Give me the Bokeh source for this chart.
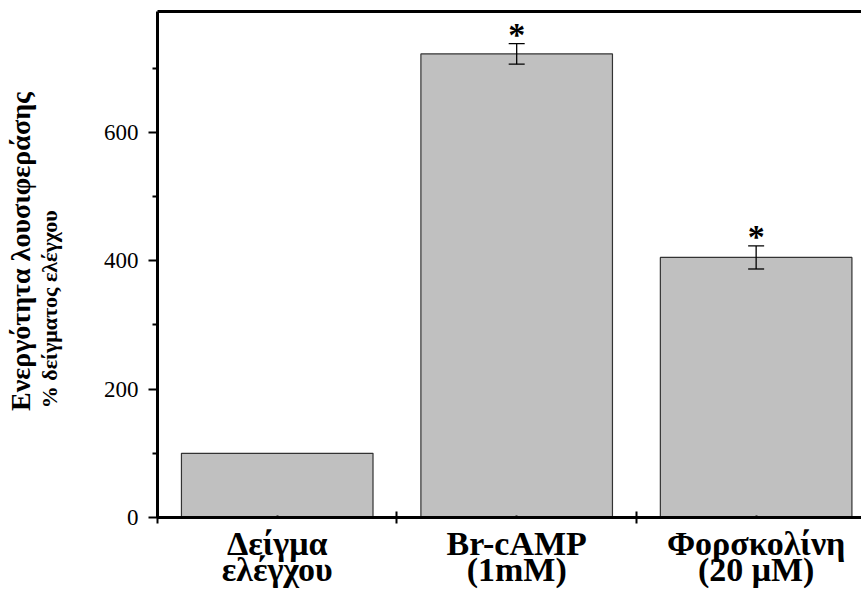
import math
from bokeh.plotting import figure
from bokeh.layouts import row
from bokeh.models import ColumnDataSource, FixedTicker, LinearAxis, Range1d
from bokeh.core.properties import value
from bokeh.embed import file_html
from bokeh.resources import INLINE

# Luciferase activity, % of control sample
categories = ["Δείγμα\nελέγχου", "Br-cAMP\n(1mM)", "Φορσκολίνη\n(20 μM)"]
activity = [100, 722, 405]
sem = [0, 16, 18]
significance = ["", "*", "*"]

y_ticks = [0, 200, 400, 600]
y_minor_ticks = [100, 300, 500, 700]

y_title = "Ενεργότητα λουσιφεράσης"
y_subtitle = "% δείγματος ελέγχου"

FONT = "Liberation Serif"
W, H = 861, 605
TITLE_W = 90          # strip holding the rotated y-axis title
FRAME_LEFT = 157      # page x of the plot frame's left edge

centers = [i + 0.5 for i in range(len(categories))]
bars = ColumnDataSource(dict(x=centers, top=activity))

err_idx = [i for i, e in enumerate(sem) if e > 0]
errs = ColumnDataSource(dict(
    x=[centers[i] for i in err_idx],
    upper=[activity[i] + sem[i] for i in err_idx],
    lower=[activity[i] - sem[i] for i in err_idx],
    mark=[significance[i] for i in err_idx],
))

p = figure(width=W - TITLE_W, height=H, output_backend="svg", toolbar_location=None,
           x_range=Range1d(0, 2.94), y_range=Range1d(0, 788),
           min_border_left=FRAME_LEFT - TITLE_W, min_border_right=0,
           min_border_top=11, min_border_bottom=88)
p.outline_line_color = None
p.xgrid.visible = False
p.ygrid.visible = False
p.background_fill_color = "white"

p.vbar(x="x", top="top", bottom=0, width=0.8, source=bars,
       fill_color="#c0c0c0", line_color="#333333", line_width=1.2)

# error bars: stem plus caps
p.segment(x0="x", y0="lower", x1="x", y1="upper", source=errs,
          line_color="black", line_width=1.3)
p.scatter(x="x", y="upper", source=errs, marker="dash", size=16,
          line_color="black", line_width=1.3)
p.scatter(x="x", y="lower", source=errs, marker="dash", size=16,
          line_color="black", line_width=1.3)

p.text(x="x", y="upper", text="mark", source=errs,
       text_font=value(FONT), text_font_style="bold", text_font_size="34px",
       text_align="center", text_baseline="alphabetic", y_offset=-9,
       text_color="black")

# left axis
ya = p.yaxis[0]
ya.ticker = FixedTicker(ticks=y_ticks, minor_ticks=y_minor_ticks)
ya.axis_line_width = 3
ya.axis_line_color = "black"
ya.major_tick_line_width = 2
ya.major_tick_out = 9
ya.major_tick_in = 0
ya.minor_tick_line_width = 2
ya.minor_tick_out = 5
ya.minor_tick_in = 0
ya.major_label_text_font = FONT
ya.major_label_text_font_size = "23px"
ya.major_label_text_color = "black"
ya.major_label_standoff = 10

# bottom axis: labels at bar centres, boundary ticks between groups
xa = p.xaxis[0]
xa.ticker = FixedTicker(ticks=centers, minor_ticks=list(range(len(categories) + 1)))
xa.major_label_overrides = {c: lab for c, lab in zip(centers, categories)}
xa.axis_line_width = 3
xa.axis_line_color = "black"
xa.major_tick_line_width = 2
xa.major_tick_in = 2
xa.major_tick_out = 0
xa.minor_tick_line_width = 2
xa.minor_tick_in = 6
xa.minor_tick_out = 6
xa.major_label_text_font = FONT
xa.major_label_text_font_style = "bold"
xa.major_label_text_font_size = "34px"
xa.major_label_text_line_height = 0.72
xa.major_label_text_color = "black"
xa.major_label_standoff = 1

# top border line
top = LinearAxis(ticker=FixedTicker(ticks=[]), axis_line_width=3,
                 major_tick_out=0, major_tick_in=0,
                 minor_tick_out=0, minor_tick_in=0,
                 major_label_standoff=0, major_label_text_font_size="0px")
p.add_layout(top, "above")

# strip on the left with the two-line rotated y-axis title (pixel coordinates)
t = figure(width=TITLE_W, height=H, output_backend="svg", toolbar_location=None,
           x_axis_type=None, y_axis_type=None,
           x_range=Range1d(0, TITLE_W), y_range=Range1d(0, H),
           min_border_left=0, min_border_right=0,
           min_border_top=0, min_border_bottom=0, outline_line_color=None)
t.grid.visible = False
title_src = ColumnDataSource(dict(x=[20, 49], y=[H - 287, H - 356],
                                  text=[y_title, y_subtitle],
                                  size=["28px", "22px"]))
t.text(x="x", y="y", text="text", source=title_src, angle=math.pi / 2,
       text_font=value(FONT), text_font_style="bold", text_font_size="size",
       text_align="center", text_baseline="middle", text_color="black")

layout = row(t, p, spacing=0)
open("out.html", "w").write(file_html(layout, INLINE))
